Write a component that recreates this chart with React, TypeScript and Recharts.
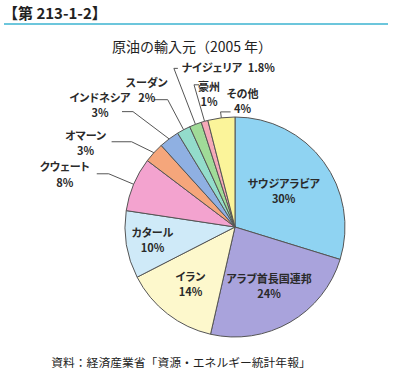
import { PieChart, Pie, Cell } from 'recharts';

const names = [
  'サウジアラビア',
  'アラブ首長国連邦',
  'イラン',
  'カタール',
  'クウェート',
  'オマーン',
  'インドネシア',
  'スーダン',
  'ナイジェリア',
  '豪州',
  'その他',
];
const shares = [30, 24, 14, 10, 8, 3, 3, 2, 1.8, 1, 4];
const colors = [
  '#8fd3f2',
  '#a9a3dc',
  '#fdf8cc',
  '#cfeaf8',
  '#f3a3cf',
  '#f5a67b',
  '#8fb0e2',
  '#93dccb',
  '#a0db98',
  '#f5a9b8',
  '#fbf49a',
];

const data = names.map((name, i) => ({ name, value: shares[i] }));

// label radius (fraction of outer radius) for slices labelled inside
const insideLabels: Record<string, number> = {
  'サウジアラビア': 0.55,
  'アラブ首長国連邦': 0.62,
  'イラン': 0.66,
  'カタール': 0.76,
};

// leader line: elbow radius, angle tweak, horizontal arm, text offset from arm end
const outsideLabels: Record<string, any> = {
  'クウェート': { r: 137, turn: 0, arm: -12, tx: -32, ty: -7, gap: 16 },
  'オマーン': { r: 134, turn: 3, arm: -20, tx: -26, ty: -6, gap: 15 },
  'インドネシア': { r: 154, turn: 4.7, arm: -11, tx: -22, ty: -14, gap: 15 },
  'スーダン': { r: 144, turn: 0, arm: -14, tx: -7, ty: -17, gap: 15 },
  'ナイジェリア': { r: 170, turn: 0, arm: 4, tx: 4, ty: 0, inline: true },
  '豪州': { r: 148, turn: 0, arm: 5, tx: 10, ty: 2, gap: 15 },
  'その他': { r: 116, turn: 0, arm: 10, tx: 12, ty: -18, gap: 15 },
};

const labelFont = {
  fontFamily: '"Noto Sans CJK JP", sans-serif',
  fontSize: 11,
  fontWeight: 700,
  fill: '#2a2a2a',
  fontFeatureSettings: '"palt"',
} as const;

const RAD = Math.PI / 180;

function renderLabel(props: any) {
  const { cx, cy, midAngle, outerRadius, index } = props;
  const name = names[index];
  const pct = `${shares[index]}%`;
  const inside = insideLabels[name];
  if (inside) {
    const r = outerRadius * inside;
    const x = cx + r * Math.cos(-midAngle * RAD);
    const y = cy + r * Math.sin(-midAngle * RAD);
    return (
      <text key={name} x={x} y={y} textAnchor="middle" style={labelFont}>
        <tspan x={x} dy={-3}>{name}</tspan>
        <tspan x={x} dy={15}>{pct}</tspan>
      </text>
    );
  }
  const o = outsideLabels[name];
  const sx = cx + outerRadius * Math.cos(-midAngle * RAD);
  const sy = cy + outerRadius * Math.sin(-midAngle * RAD);
  const a = (midAngle + o.turn) * RAD;
  const ex = cx + o.r * Math.cos(-a);
  const ey = cy + o.r * Math.sin(-a);
  const ax = ex + o.arm;
  const tx = ax + o.tx;
  const ty = ey + o.ty;
  return (
    <g key={name}>
      <polyline
        points={`${sx},${sy} ${ex},${ey} ${ax},${ey}`}
        fill="none"
        stroke="#555"
        strokeWidth={1}
      />
      {o.inline ? (
        <text x={tx} y={ty} dy={4} textAnchor="start" style={labelFont}>
          {name}
          {'\u2002'}
          {pct}
        </text>
      ) : (
        <text x={tx} y={ty} textAnchor="middle" style={labelFont}>
          <tspan x={tx} dy={4}>{name}</tspan>
          <tspan x={tx} dy={o.gap}>{pct}</tspan>
        </text>
      )}
    </g>
  );
}

export default function App() {
  return (
    <div
      style={{
        position: 'absolute',
        left: 0,
        top: 0,
        width: 399,
        height: 380,
        background: '#fff',
        fontFamily: '"Noto Sans CJK JP", sans-serif',
      }}
    >
      <div
        style={{
          position: 'absolute',
          left: 3,
          top: 4,
          fontSize: 15,
          fontWeight: 700,
          color: '#222',
          lineHeight: '18px',
        }}
      >
        【第 213-1-2】
      </div>
      <div
        style={{
          position: 'absolute',
          left: 4,
          top: 23,
          width: 384,
          height: 1.5,
          background: '#6cc6dc',
        }}
      />
      <div
        style={{
          position: 'absolute',
          left: 0,
          top: 37,
          width: 384,
          textAlign: 'center',
          fontSize: 14,
          color: '#222',
          lineHeight: '18px',
        }}
      >
        原油の輸入元（2005 年）
      </div>
      <div style={{ position: 'absolute', left: 0, top: 0 }}>
        <PieChart
          width={399}
          height={380}
          margin={{ top: 0, right: 0, bottom: 0, left: 0 }}
        >
          <Pie
            data={data}
            dataKey="value"
            nameKey="name"
            cx={235}
            cy={227}
            outerRadius={110}
            startAngle={90}
            endAngle={-270}
            stroke="#555"
            strokeWidth={1}
            label={renderLabel}
            labelLine={false}
            isAnimationActive={false}
          >
            {data.map((d, i) => (
              <Cell key={d.name} fill={colors[i]} />
            ))}
          </Pie>
        </PieChart>
      </div>
      <div
        style={{
          position: 'absolute',
          left: 0,
          top: 354,
          width: 362,
          textAlign: 'center',
          fontSize: 11.8,
          color: '#222',
          lineHeight: '16px',
        }}
      >
        資料：経済産業省「資源・エネルギー統計年報」
      </div>
    </div>
  );
}
